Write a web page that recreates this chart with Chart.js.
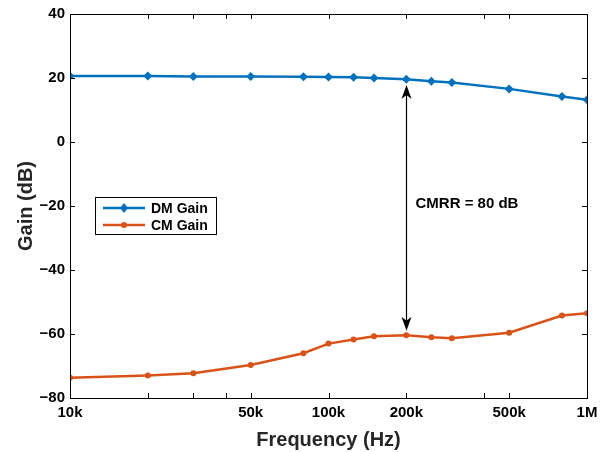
<!DOCTYPE html>
<html>
<head>
<meta charset="utf-8">
<script src="https://cdn.jsdelivr.net/npm/chart.js@4.4.1/dist/chart.umd.min.js"></script>
<style>
body { margin: 0; background: #fff; }
#wrap { width: 608px; height: 452px; }
</style>
</head>
<body>
<div id="wrap"><canvas id="gainChart" width="608" height="452"></canvas></div>
<script>
// frequencies (Hz) and measured gains (dB)
var freqs = [10000, 20000, 30000, 50000, 80000, 100000, 125000, 150000, 200000, 250000, 300000, 500000, 800000, 1000000];
var dmGain = [20.6, 20.6, 20.5, 20.5, 20.4, 20.3, 20.2, 20.0, 19.6, 19.0, 18.6, 16.6, 14.2, 13.2];
var cmGain = [-73.7, -73.0, -72.3, -69.7, -66.0, -63.0, -61.7, -60.7, -60.4, -61.0, -61.3, -59.6, -54.2, -53.5];

var xTicks = [10000, 20000, 30000, 40000, 50000, 100000, 200000, 400000, 500000, 1000000];
var xTickLabels = { 10000: '10k', 50000: '50k', 100000: '100k', 200000: '200k', 500000: '500k', 1000000: '1M' };
var yTicks = [-80, -60, -40, -20, 0, 20, 40];

// CMRR arrow annotation
var arrowFreq = 200000;
var arrowTop = 17.8;
var arrowBottom = -59;
var arrowLabel = 'CMRR = 80 dB';
var arrowLabelY = -19.4;

var FONT = '"Liberation Sans", Arial, Helvetica, sans-serif';

function toPoints(xs, ys) {
	return xs.map(function(x, i) { return { x: x, y: ys[i] }; });
}

var framePlugin = {
	id: 'frame',
	afterDatasetsDraw: function(chart) {
		var ctx = chart.ctx, a = chart.chartArea;
		var xs = chart.scales.x, ys = chart.scales.y;
		ctx.save();
		ctx.strokeStyle = '#000';
		ctx.lineWidth = 1;
		ctx.strokeRect(Math.round(a.left) + 0.5, Math.round(a.top) + 0.5, Math.round(a.right - a.left), Math.round(a.bottom - a.top));
		ctx.beginPath();
		xTicks.forEach(function(v) {
			var px = Math.round(xs.getPixelForValue(v)) + 0.5;
			ctx.moveTo(px, a.bottom); ctx.lineTo(px, a.bottom - 5);
			ctx.moveTo(px, a.top); ctx.lineTo(px, a.top + 5);
		});
		yTicks.forEach(function(v) {
			var py = Math.round(ys.getPixelForValue(v)) + 0.5;
			ctx.moveTo(a.left, py); ctx.lineTo(a.left + 5, py);
			ctx.moveTo(a.right, py); ctx.lineTo(a.right - 5, py);
		});
		ctx.stroke();

		// double arrow
		var ax = Math.round(xs.getPixelForValue(arrowFreq)) + 0.5;
		var y1 = ys.getPixelForValue(arrowTop), y2 = ys.getPixelForValue(arrowBottom);
		ctx.beginPath();
		ctx.lineWidth = 1.2;
		ctx.moveTo(ax, y1 + 8); ctx.lineTo(ax, y2 - 8);
		ctx.stroke();
		ctx.fillStyle = '#000';
		ctx.beginPath();
		ctx.moveTo(ax, y1); ctx.lineTo(ax - 5, y1 + 14); ctx.lineTo(ax, y1 + 10); ctx.lineTo(ax + 5, y1 + 14); ctx.closePath();
		ctx.fill();
		ctx.beginPath();
		ctx.moveTo(ax, y2); ctx.lineTo(ax - 5, y2 - 14); ctx.lineTo(ax, y2 - 10); ctx.lineTo(ax + 5, y2 - 14); ctx.closePath();
		ctx.fill();

		ctx.font = 'bold 15px ' + FONT;
		ctx.textBaseline = 'middle';
		ctx.textAlign = 'left';
		ctx.fillText(arrowLabel, ax + 9, ys.getPixelForValue(arrowLabelY));

		// legend box
		var lx = 95, ly = 197, lw = 121, lh = 37;
		ctx.fillStyle = '#fff';
		ctx.fillRect(lx, ly, lw, lh);
		ctx.strokeStyle = '#000';
		ctx.lineWidth = 1;
		ctx.strokeRect(lx + 0.5, ly + 0.5, lw, lh);
		ctx.font = 'bold 14px ' + FONT;
		chart.data.datasets.forEach(function(ds, i) {
			var ry = ly + 11 + i * 17;
			ctx.strokeStyle = ds.borderColor;
			ctx.lineWidth = ds.borderWidth;
			ctx.beginPath();
			ctx.moveTo(lx + 8, ry); ctx.lineTo(lx + 50, ry);
			ctx.stroke();
			ctx.fillStyle = ds.borderColor;
			ctx.beginPath();
			if (ds.pointStyle === 'rectRot') {
				ctx.moveTo(lx + 29, ry - 5); ctx.lineTo(lx + 33, ry); ctx.lineTo(lx + 29, ry + 5); ctx.lineTo(lx + 25, ry);
				ctx.closePath();
			} else {
				ctx.arc(lx + 29, ry, 3, 0, Math.PI * 2);
			}
			ctx.fill();
			ctx.fillStyle = '#000';
			ctx.fillText(ds.label, lx + 56, ry + 1);
		});
		ctx.restore();
	}
};

var gainConfig = {
	type: 'line',
	data: {
		datasets: [{
			label: 'DM Gain',
			data: toPoints(freqs, dmGain),
			borderColor: '#0072BD',
			backgroundColor: '#0072BD',
			borderWidth: 2.5,
			pointStyle: 'rectRot',
			pointRadius: 4.5,
			pointBorderWidth: 0,
			tension: 0
		}, {
			label: 'CM Gain',
			data: toPoints(freqs, cmGain),
			borderColor: '#D95319',
			backgroundColor: '#D95319',
			borderWidth: 2.5,
			pointStyle: 'circle',
			pointRadius: 3,
			pointBorderWidth: 0,
			tension: 0
		}]
	},
	options: {
		responsive: false,
		animation: false,
		layout: { padding: { top: 14, right: 21, left: 0, bottom: 0 } },
		plugins: { legend: { display: false }, tooltip: { enabled: false } },
		scales: {
			x: {
				type: 'logarithmic',
				min: 10000,
				max: 1000000,
				grid: { display: false, drawTicks: false, tickLength: 0 },
				border: { display: false },
				afterBuildTicks: function(scale) {
					scale.ticks = xTicks.map(function(v) { return { value: v }; });
				},
				afterFit: function(scale) { scale.height = 54; },
				ticks: {
					autoSkip: false,
					maxRotation: 0,
					padding: 6,
					color: '#000',
					font: { family: FONT, size: 15, weight: 'bold' },
					callback: function(v) { return xTickLabels[v] || ''; }
				},
				title: {
					display: true,
					text: 'Frequency (Hz)',
					color: '#262626',
					padding: { top: 0, bottom: 0 },
					font: { family: FONT, size: 20, weight: 'bold' }
				}
			},
			y: {
				min: -80,
				max: 40,
				grid: { display: false, drawTicks: false, tickLength: 0 },
				border: { display: false },
				afterBuildTicks: function(scale) {
					scale.ticks = yTicks.map(function(v) { return { value: v }; });
				},
				afterFit: function(scale) { scale.width = 70; },
				ticks: {
					padding: 5,
					color: '#000',
					font: { family: FONT, size: 15, weight: 'bold' },
					callback: function(v) { return String(v).replace('-', '\u2212'); }
				},
				title: {
					display: true,
					text: 'Gain (dB)',
					color: '#262626',
					padding: { top: 14, bottom: 0 },
					font: { family: FONT, size: 20, weight: 'bold' }
				}
			}
		}
	},
	plugins: [framePlugin]
};

window.onload = function() {
	var ctx = document.getElementById('gainChart').getContext('2d');
	window.gainChart = new Chart(ctx, gainConfig);
};
</script>
</body>
</html>
